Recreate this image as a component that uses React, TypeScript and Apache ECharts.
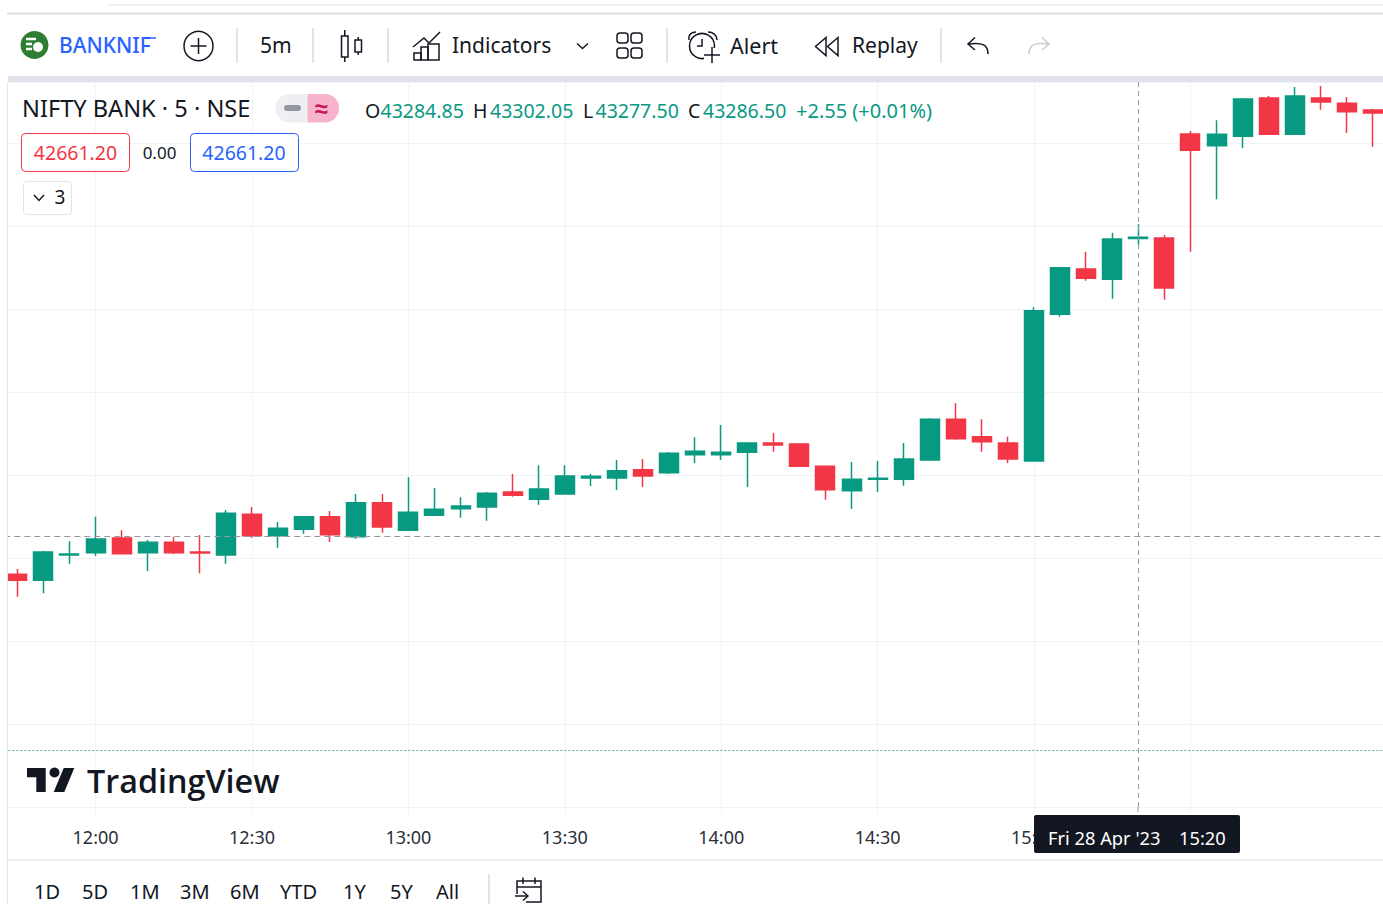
import React, { useEffect, useRef } from "react";
import * as echarts from "echarts";

const categories = [
  "11:45","11:50","11:55","12:00","12:05","12:10","12:15","12:20","12:25","12:30",
  "12:35","12:40","12:45","12:50","12:55","13:00","13:05","13:10","13:15","13:20",
  "13:25","13:30","13:35","13:40","13:45","13:50","13:55","14:00","14:05","14:10",
  "14:15","14:20","14:25","14:30","14:35","14:40","14:45","14:50","14:55","15:00",
  "15:05","15:10","15:15","15:20","15:25","15:30","15:35","15:40","15:45","15:50",
  "15:55","16:00","16:05",
];
const opens = [
  42880.4,42873.1,42903.6,42906.4,42924.1,42906.4,42918.9,42907.2,42903.6,42952.7,
  42926.9,42934.6,42949.8,42925.7,42966.6,42933.4,42951.5,42959.4,42961.5,42979.5,
  42970.7,42977.1,42996.4,42996.4,43006.4,43002.8,43024.5,43024.5,43027.3,43038.6,
  43037.4,43010.5,42981.1,42994.8,42994.8,43018.1,43067.1,43046.1,43038.6,43016.9,
  43193.6,43248.2,43235.8,43284.85,43285.5,43410.8,43396.7,43408.1,43454.2,43410.5,
  43454.2,43447.8,43439.8,
];
const closes = [
  42873.1,42907.2,42904.8,42922.9,42905.2,42918.9,42906.4,42906.0,42953.9,42926.9,
  42935.8,42949.8,42928.1,42966.6,42937.4,42955.1,42958.7,42962.7,42978.0,42975.5,
  42983.1,42998.8,42998.4,43005.2,42998.8,43026.1,43028.6,43027.3,43038.6,43036.1,
  43010.5,42982.3,42994.8,42996.0,43019.3,43067.1,43043.7,43040.1,43019.3,43198.0,
  43249.8,43237.0,43284.3,43286.5,43225.3,43391.2,43410.5,43453.0,43410.5,43456.6,
  43449.4,43437.7,43436.1,
];
const lows = [
  42853.4,42857.5,42893.1,42902.4,42905.2,42884.3,42904.8,42881.6,42893.1,42924.5,
  42912.4,42929.3,42919.3,42923.3,42930.5,42933.4,42951.5,42948.6,42945.0,42973.9,
  42964.2,42977.1,42986.8,42981.9,42985.5,43001.2,43014.5,43018.1,42985.5,43028.1,
  43010.5,42970.2,42959.0,42979.5,42987.1,43018.1,43042.5,43028.1,43014.5,43016.9,
  43190.7,43234.1,43212.4,43277.5,43211.2,43269.0,43332.2,43394.0,43410.5,43410.5,
  43440.1,43412.0,43395.5,
];
const highs = [
  42886.8,42908.8,42920.1,42949.8,42933.4,42921.7,42925.7,42927.7,42957.8,42961.5,
  42943.4,42949.8,42956.6,42977.1,42977.1,42997.2,42984.3,42973.1,42979.5,43001.2,
  43011.7,43011.7,43001.2,43018.1,43019.3,43027.7,43045.4,43060.2,43038.6,43050.6,
  43037.4,43010.5,43015.7,43016.9,43038.6,43068.3,43086.4,43067.1,43046.1,43202.0,
  43249.8,43269.0,43291.9,43302.05,43289.2,43414.5,43427.3,43454.2,43456.6,43467.5,
  43468.7,43455.4,43441.3,
];
const tickLabels = ["12:00","12:30","13:00","13:30","14:00","14:30","15:00"];
const gridTimes = [...tickLabels, "15:30"];
const rangeButtons = ["1D","5D","1M","3M","6M","YTD","1Y","5Y","All"];
const rangeButtonX = [34,82,130,180,230,280,343,390,436];
const crosshairTime = "15:20";
const crosshairPrice = 42926.5;
const previousClose = 42668.7;

const FONT = "'Noto Sans', sans-serif";
const INK = "#131722";
const GREEN = "#089981";
const RED = "#f23645";
const BLUE = "#2962ff";
const GRID = "#f0f3fa";
const BAND = "#e0e3eb";

const Z = 50;
const txt = (x: number, y: number, text: string, size: number, fill: string, extra: any = {}) => ({
  type: "text", x, y, z: Z, silent: true,
  style: { text, fontSize: size, fill, fontFamily: FONT, align: "left", verticalAlign: "middle", ...extra },
});
const ln = (x1: number, y1: number, x2: number, y2: number, stroke: string, lineWidth = 1, extra: any = {}) => ({
  type: "line", z: Z, silent: true, shape: { x1, y1, x2, y2 }, style: { stroke, lineWidth, ...extra },
});
const box = (x: number, y: number, width: number, height: number, style: any, r: any = 0, z = Z) => ({
  type: "rect", z, silent: true, shape: { x, y, width, height, r }, style,
});
const poly = (points: number[][], stroke: string, lineWidth = 1.5) => ({
  type: "polyline", z: Z, silent: true, shape: { points }, style: { stroke, lineWidth, fill: "none" },
});
const ring = (cx: number, cy: number, r: number, stroke: string, lineWidth = 1.5, fill = "none") => ({
  type: "circle", z: Z, silent: true, shape: { cx, cy, r }, style: { stroke, lineWidth, fill },
});
const curve = (x1: number, y1: number, cpx1: number, cpy1: number, cpx2: number, cpy2: number, x2: number, y2: number, stroke: string) => ({
  type: "bezierCurve", z: Z, silent: true, shape: { x1, y1, cpx1, cpy1, cpx2, cpy2, x2, y2 }, style: { stroke, lineWidth: 1.5, fill: "none" },
});

function chrome(): any[] {
  const els: any[] = [];
  // frame
  els.push(box(0, 0, 7, 904, { fill: "#fff" }));
  els.push(ln(7.5, 82, 7.5, 904, "#e6e6f0", 1));
  els.push(ln(108, 5, 1383, 5, "#f2f2f2", 2));
  els.push(ln(7, 13.5, 1383, 13.5, "#e0e0e0", 2));
  els.push(box(8, 76, 1375, 6, { fill: BAND }));
  els.push(ln(8, 860, 1383, 860, "#ececf2", 2));
  [237, 313, 388, 667, 941].forEach((x) => els.push(ln(x, 28, x, 63, BAND, 2)));
  // symbol
  els.push(ring(34.5, 45, 14, "#2e7d32", 0, "#2e7d32"));
  els.push(ln(26, 39, 36, 39, "#fff", 2.5), ln(26, 44, 32, 44, "#fff", 2.5), ln(26, 49, 32, 49, "#fff", 2.5));
  els.push(ring(38, 47, 5, "#fff", 0, "#fff"));
  els.push(txt(59, 45, "BANKNIF", 21, BLUE, { fontWeight: 500 }));
  els.push(ln(148, 38, 156, 38, BLUE, 1.5));
  els.push(ring(198.5, 46, 14.5, INK, 1.5));
  els.push(ln(198.5, 38, 198.5, 54, INK, 1.5), ln(190.5, 46, 206.5, 46, INK, 1.5));
  els.push(txt(260, 45, "5m", 21, INK));
  // candle icon
  els.push(box(341.5, 36, 6.5, 21, { stroke: INK, lineWidth: 1.5, fill: "none" }));
  els.push(ln(344.75, 30, 344.75, 36, INK, 1.5), ln(344.75, 57, 344.75, 62, INK, 1.5));
  els.push(box(355, 40, 6.5, 12, { stroke: INK, lineWidth: 1.5, fill: "none" }));
  els.push(ln(358.25, 37, 358.25, 40, INK, 1.5), ln(358.25, 52, 358.25, 55, INK, 1.5));
  // indicators icon
  els.push(poly([[413, 47], [424, 38], [429, 43], [440, 32]], INK));
  els.push(box(414, 53, 7, 7, { stroke: INK, lineWidth: 1.5, fill: "none" }));
  els.push(box(421, 47, 7, 13, { stroke: INK, lineWidth: 1.5, fill: "none" }));
  els.push(box(428, 44, 11, 16, { stroke: INK, lineWidth: 1.5, fill: "none" }));
  els.push(txt(452, 45, "Indicators", 21, INK));
  els.push(poly([[577, 43.5], [582.5, 48.5], [588, 43.5]], INK));
  [[617, 33], [631, 33], [617, 48], [631, 48]].forEach(([x, y]) =>
    els.push(box(x, y, 11, 10, { stroke: INK, lineWidth: 1.5, fill: "none" }, 3))
  );
  // alert icon
  els.push(ring(702, 46, 12.5, INK));
  els.push(poly([[702, 39], [702, 46], [697, 46]], INK));
  els.push(curve(689, 40, 688, 34, 692, 32, 696, 32, INK), curve(708, 32, 713, 32, 717, 35, 717, 40, INK));
  els.push(box(704, 48, 16, 16, { fill: "#fff" }));
  els.push(ln(712, 47, 712, 63, INK, 1.5), ln(704, 55, 720, 55, INK, 1.5));
  els.push(txt(730, 45, "Alert", 21.5, INK));
  // replay icon
  els.push({ type: "polygon", z: Z, silent: true, shape: { points: [[826, 37.5], [815.5, 46.5], [826, 55.5]] }, style: { stroke: INK, lineWidth: 1.5, fill: "none" } });
  els.push({ type: "polygon", z: Z, silent: true, shape: { points: [[838, 37.5], [827.5, 46.5], [838, 55.5]] }, style: { stroke: INK, lineWidth: 1.5, fill: "none" } });
  els.push(txt(852, 45, "Replay", 21, INK));
  // undo / redo
  els.push(poly([[975, 37.5], [968, 44], [975, 50]], INK), curve(968, 44, 983, 42, 988, 45, 988, 54, INK));
  els.push(poly([[1042, 37.5], [1049, 44], [1042, 50]], "#c9cbd1"), curve(1049, 44, 1034, 42, 1029, 45, 1029, 54, "#c9cbd1"));
  // legend
  els.push(txt(22, 107.5, "NIFTY BANK · 5 · NSE", 23.6, INK));
  els.push(box(275.5, 94, 32, 28.5, { fill: "#eeeff2" }, [14, 0, 0, 14]));
  els.push(box(307.5, 94, 31.5, 28.5, { fill: "#f7b3cc" }, [0, 14, 14, 0]));
  els.push(box(284, 105, 17, 6, { fill: "#9598a1" }, 3));
  els.push(txt(321, 107, "≈", 24, "#c2185b", { align: "center", fontWeight: 700 }));
  const ohlc = [["O", 365, "43284.85", 380.5], ["H", 473, "43302.05", 490], ["L", 583, "43277.50", 595.5], ["C", 688, "43286.50", 703]] as const;
  ohlc.forEach(([k, x, v, vx]) => {
    els.push(txt(x, 110.5, k, 19.5, INK), txt(vx, 110.5, v, 19.5, GREEN));
  });
  els.push(txt(796, 110.5, "+2.55 (+0.01%)", 20, GREEN));
  els.push(box(21.5, 133.5, 108, 38, { fill: "#fff", stroke: RED, lineWidth: 1 }, 4));
  els.push(txt(75.5, 152, "42661.20", 19.5, RED, { align: "center" }));
  els.push(txt(159.5, 152, "0.00", 17, INK, { align: "center" }));
  els.push(box(190.5, 133.5, 108, 38, { fill: "#fff", stroke: BLUE, lineWidth: 1 }, 4));
  els.push(txt(244, 152, "42661.20", 19.5, BLUE, { align: "center" }));
  els.push(box(23.5, 181.5, 48, 33, { fill: "#fff", stroke: BAND, lineWidth: 1 }, 3));
  els.push(poly([[34, 195], [39, 200.5], [44, 195]], INK));
  els.push(txt(60, 197, "3", 19, INK, { align: "center" }));
  // brand
  els.push({ type: "polygon", z: Z, silent: true, shape: { points: [[27, 768], [45.7, 768], [45.7, 792], [36.3, 792], [36.3, 777.3], [27, 777.3]] }, style: { fill: INK } });
  els.push({ type: "polygon", z: Z, silent: true, shape: { points: [[64.3, 792], [53.7, 792], [63.7, 768], [74.3, 768]] }, style: { fill: INK } });
  els.push(ring(54.5, 772.5, 5, INK, 0, INK));
  els.push(txt(87, 780, "TradingView", 32.3, INK, { fontWeight: 600, fontFamily: "'Open Sans', sans-serif" }));
  // crosshair time tag
  els.push(ln(1138, 807, 1138, 815, "#9598a1", 1, { lineDash: [5, 4] }));
  els.push(box(1034, 815, 206, 38, { fill: INK }, 2, Z + 1));
  els.push({ ...txt(1048, 837.5, "Fri 28 Apr '23", 18.3, "#fff"), z: Z + 2 });
  els.push({ ...txt(1179, 837.5, "15:20", 18.3, "#fff"), z: Z + 2 });
  // range bar
  rangeButtons.forEach((b, i) => els.push(txt(rangeButtonX[i], 891, b, 20, INK)));
  els.push(ln(489, 874, 489, 904, BAND, 2));
  els.push(poly([[517, 894], [517, 881], [541, 881], [541, 902], [526, 902]], INK));
  els.push(ln(517, 887, 541, 887, INK, 1.5), ln(523, 877.5, 523, 884, INK, 1.5), ln(535, 877.5, 535, 884, INK, 1.5));
  els.push(ln(515, 896, 528, 896, INK, 1.5));
  els.push(poly([[523, 891.5], [528, 896], [523, 900.5]], INK));
  return els;
}

export default function App() {
  const ref = useRef<HTMLDivElement>(null);
  useEffect(() => {
    document.body.style.margin = "0";
    document.body.style.background = "#fff";
    document.body.style.overflow = "hidden";
    const chart = echarts.init(ref.current!, undefined, { renderer: "svg" });
    const onGrid = (_: number, v: string) => gridTimes.includes(v);
    chart.setOption({
      animation: false,
      backgroundColor: "#fff",
      grid: { left: 4.3, top: 82, width: 1381.7, height: 725, containLabel: false },
      xAxis: {
        type: "category",
        data: categories,
        boundaryGap: true,
        axisLine: { show: false },
        axisTick: { show: true, length: 7, alignWithLabel: true, interval: onGrid, lineStyle: { color: GRID } },
        axisLabel: {
          show: true, margin: 21, fontSize: 18, color: "#2a2e39", fontFamily: FONT,
          interval: (_: number, v: string) => tickLabels.includes(v),
        },
        splitLine: { show: true, alignWithLabel: true, interval: onGrid, lineStyle: { color: GRID, width: 1 } },
      },
      yAxis: {
        type: "value",
        min: 42600,
        max: 43473.5,
        interval: 100,
        axisLine: { show: false },
        axisTick: { show: false },
        axisLabel: { show: false },
        splitLine: { show: true, lineStyle: { color: GRID, width: 1 } },
      },
      series: [
        {
          type: "candlestick",
          barWidth: 19.5,
          data: categories.map((_, i) => [opens[i], closes[i], lows[i], highs[i]]),
          itemStyle: { color: GREEN, color0: RED, borderColor: GREEN, borderColor0: RED, borderWidth: 1.5 },
          markLine: {
            silent: true,
            symbol: "none",
            animation: false,
            label: { show: false },
            data: [
              { xAxis: crosshairTime, lineStyle: { color: "#9598a1", type: [5, 4], width: 1 } },
              { yAxis: crosshairPrice, lineStyle: { color: "#9598a1", type: [6, 4], width: 1 } },
              { yAxis: previousClose, lineStyle: { color: "#26a69a", type: [2, 2], width: 1, opacity: 0.8 } },
            ],
          },
        },
      ],
      graphic: { elements: chrome() },
    });
    return () => chart.dispose();
  }, []);
  return (
    <div style={{ width: 1383, height: 904, overflow: "hidden" }}>
      <div ref={ref} style={{ width: 1390, height: 904 }} />
    </div>
  );
}
